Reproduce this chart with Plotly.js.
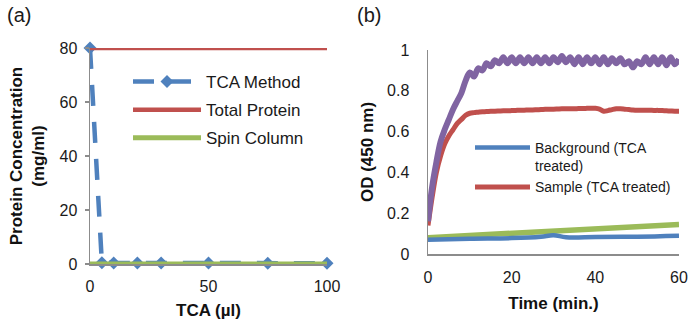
<!DOCTYPE html>
<html>
<head>
<meta charset="utf-8">
<script src="https://cdn.plot.ly/plotly-3.0.1.min.js"></script>
<style>html,body{margin:0;padding:0;background:#fff}#chart{width:690px;height:320px}</style>
</head>
<body>
<div id="chart"></div>
<script>
// Panel (a)
const tcaX = [0, 5, 10, 20, 30, 50, 75, 100];
const tcaMethod = [80, 0.5, 0.4, 0.4, 0.4, 0.4, 0.3, 0.3];
const totalProtein = [80, 80, 80, 80, 80, 80, 80, 80];
const spinColumn = [0, 0, 0, 0, 0, 0, 0, 0];
const aXTicks = [0, 50, 100];
const aYTicks = [0, 20, 40, 60, 80];

// Panel (b)
const timeMin = [0,1,2,3,4,5,6,7,8,9,10,11,12,13,14,15,16,17,18,19,20,21,22,23,24,25,26,27,28,29,30,
  31,32,33,34,35,36,37,38,39,40,41,42,43,44,45,46,47,48,49,50,51,52,53,54,55,56,57,58,59,60];
const purpleOD = [0.16,0.33,0.45,0.55,0.61,0.66,0.71,0.75,0.79,0.85,0.89,0.87,0.91,0.90,0.935,0.92,0.95,0.935,0.965,0.935,
  0.965,0.935,0.965,0.935,0.965,0.935,0.965,0.935,0.965,0.935,0.965,0.94,0.97,0.94,0.965,0.93,0.965,0.93,0.965,0.935,
  0.965,0.93,0.965,0.93,0.96,0.935,0.96,0.93,0.945,0.915,0.945,0.93,0.965,0.93,0.965,0.93,0.965,0.925,0.965,0.93,0.955];
const sampleOD = [0.14,0.28,0.40,0.48,0.54,0.58,0.61,0.64,0.66,0.68,0.69,0.693,0.695,0.697,0.698,0.70,0.70,0.701,0.702,0.702,
  0.703,0.704,0.705,0.705,0.706,0.706,0.707,0.708,0.709,0.71,0.71,0.711,0.712,0.712,0.712,0.712,0.713,0.713,0.714,0.715,
  0.714,0.71,0.70,0.703,0.708,0.712,0.712,0.71,0.708,0.706,0.705,0.705,0.705,0.705,0.704,0.704,0.703,0.702,0.701,0.70,0.70];
const backgroundT = [0, 10, 20, 27, 30, 33, 40, 50, 60];
const backgroundOD = [0.07, 0.075, 0.078, 0.085, 0.092, 0.082, 0.083, 0.085, 0.09];
const greenT = [0, 30, 60];
const greenOD = [0.08, 0.113, 0.145];
const bXTicks = [0, 20, 40, 60];
const bYTicks = [0, 0.2, 0.4, 0.6, 0.8, 1];
const bYTickText = ['0', '0.2', '0.4', '0.6', '0.8', '1'];

const FONT = 'Liberation Sans, Arial, sans-serif';
const BLUE = '#4F81BD', RED = '#C0504D', GREEN = '#9BBB59', PURPLE = '#8064A2';
const AXC = '#8c8c8c';
const TXT = '#1a1a1a';

const traces = [
  {x: tcaX, y: tcaMethod, name: 'TCA Method', type: 'scatter', mode: 'lines+markers',
   line: {color: BLUE, width: 4.5, dash: '21px,16px'}, marker: {symbol: 'diamond', size: 10, color: BLUE},
   xaxis: 'x', yaxis: 'y', legend: 'legend', legendgroup: 'g1', cliponaxis: false},
  {x: tcaX, y: totalProtein, name: 'Total Protein', type: 'scatter', mode: 'lines',
   line: {color: RED, width: 4.5}, xaxis: 'x', yaxis: 'y', legend: 'legend', legendgroup: 'g2', cliponaxis: false},
  {x: tcaX, y: spinColumn, name: 'Spin Column', type: 'scatter', mode: 'lines',
   line: {color: GREEN, width: 5}, xaxis: 'x', yaxis: 'y', legend: 'legend', legendgroup: 'g3', cliponaxis: false},

  {x: greenT, y: greenOD, name: 'Control', type: 'scatter', mode: 'lines', showlegend: false,
   line: {color: GREEN, width: 5.5}, xaxis: 'x2', yaxis: 'y2', cliponaxis: false},
  {x: backgroundT, y: backgroundOD, name: 'Background (TCA<br>treated)', type: 'scatter', mode: 'lines',
   line: {color: BLUE, width: 4.5, shape: 'spline'}, xaxis: 'x2', yaxis: 'y2', legend: 'legend2', cliponaxis: false},
  {x: timeMin, y: sampleOD, name: 'Sample (TCA treated)', type: 'scatter', mode: 'lines',
   line: {color: RED, width: 5, shape: 'spline'}, xaxis: 'x2', yaxis: 'y2', legend: 'legend2', cliponaxis: false},
  {x: timeMin, y: purpleOD, name: 'Sample', type: 'scatter', mode: 'lines', showlegend: false,
   line: {color: PURPLE, width: 6, shape: 'spline'}, xaxis: 'x2', yaxis: 'y2', cliponaxis: false}
];

const axisCommon = {
  showgrid: false, zeroline: false, showline: true, linecolor: AXC, linewidth: 1.5,
  tickfont: {family: FONT, size: 16, color: TXT}, automargin: false
};
const titleFont = {family: FONT, size: 17, color: '#111'};

const layout = {
  width: 690, height: 320,
  margin: {l: 0, r: 0, t: 0, b: 0},
  paper_bgcolor: '#fff', plot_bgcolor: '#fff',
  font: {family: FONT, size: 16, color: TXT},
  showlegend: true,
  xaxis: Object.assign({}, axisCommon, {
    domain: [90/690, 327/690], range: [0, 100], tickvals: aXTicks, ticks: '', ticklabelstandoff: 7,
    title: {text: '<b>TCA (µl)</b>', font: titleFont, standoff: 16},
    anchor: 'y'
  }),
  yaxis: Object.assign({}, axisCommon, {
    domain: [1 - 264/320, 1 - 48/320], range: [0, 80], tickvals: aYTicks, ticks: 'outside', ticklen: 4,
    tickcolor: AXC, tickwidth: 1.5, ticklabelstandoff: 4,
    title: {text: '<b>Protein Concentration<br>(mg/ml)</b>', font: titleFont, standoff: 10},
    anchor: 'x'
  }),
  xaxis2: Object.assign({}, axisCommon, {
    domain: [428/690, 679/690], range: [0, 60], tickvals: bXTicks, ticks: '', ticklabelstandoff: 8,
    title: {text: '<b>Time (min.)</b>', font: titleFont, standoff: 12},
    anchor: 'y2'
  }),
  yaxis2: Object.assign({}, axisCommon, {
    domain: [1 - 254/320, 1 - 50/320], range: [0, 1], tickvals: bYTicks, ticktext: bYTickText,
    ticks: '', ticklabelstandoff: 14,
    title: {text: '<b>OD (450 nm)</b>', font: titleFont, standoff: 9},
    anchor: 'x2'
  }),
  legend: {
    x: 128/690, y: 1 - 64/320, xanchor: 'left', yanchor: 'top', bgcolor: 'rgba(0,0,0,0)',
    font: {family: FONT, size: 17, color: TXT}, itemwidth: 68, tracegroupgap: 3,
    traceorder: 'grouped'
  },
  legend2: {
    x: 470/690, y: 1 - 132/320, xanchor: 'left', yanchor: 'top', bgcolor: 'rgba(0,0,0,0)',
    font: {family: FONT, size: 14, color: TXT}, itemwidth: 55, tracegroupgap: 0, valign: 'top'
  },
  annotations: [
    {text: '(a)', x: 5/690, y: 1 - 15/320, xref: 'paper', yref: 'paper', xanchor: 'left', yanchor: 'middle',
     showarrow: false, font: {family: FONT, size: 20, color: TXT}},
    {text: '(b)', x: 355/690, y: 1 - 15/320, xref: 'paper', yref: 'paper', xanchor: 'left', yanchor: 'middle',
     showarrow: false, font: {family: FONT, size: 20, color: TXT}}
  ]
};

Plotly.newPlot('chart', traces, layout, {staticPlot: true, displayModeBar: false});
</script>
</body>
</html>
